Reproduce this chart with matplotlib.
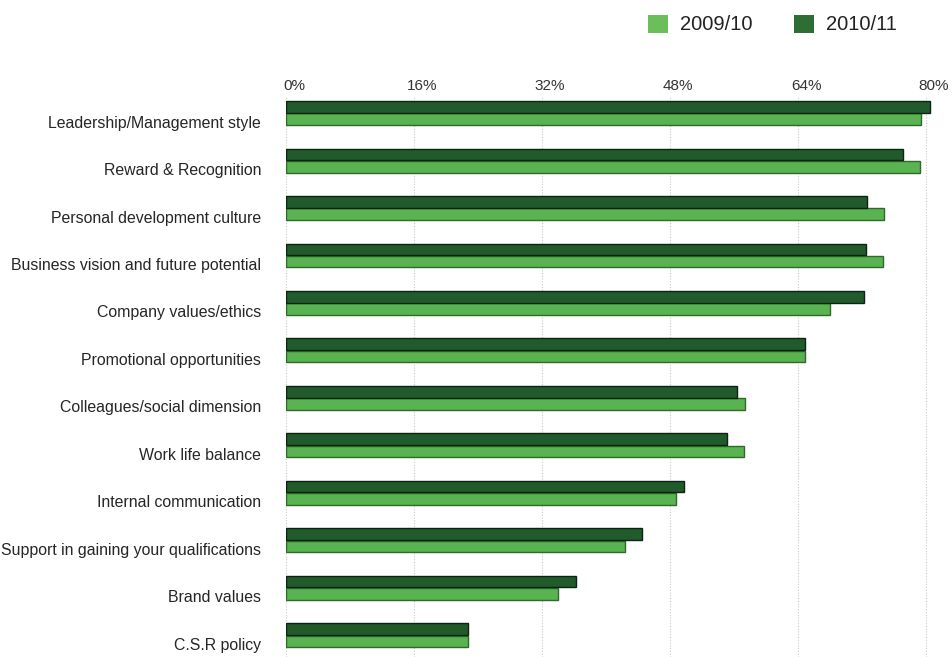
import matplotlib
matplotlib.use("Agg")
import matplotlib.pyplot as plt
from matplotlib.patches import Rectangle
import matplotlib.transforms as mtrans
import numpy as np

plt.rcParams['font.family'] = ['Liberation Sans', 'DejaVu Sans']

categories = [
    "Leadership/Management style",
    "Reward & Recognition",
    "Personal development culture",
    "Business vision and future potential",
    "Company values/ethics",
    "Promotional opportunities",
    "Colleagues/social dimension",
    "Work life balance",
    "Internal communication",
    "Support in gaining your qualifications",
    "Brand values",
    "C.S.R policy",
]
series_names = ["2009/10", "2010/11"]
values_2009 = [79.4, 79.2, 74.7, 74.6, 68.0, 64.9, 57.4, 57.2, 48.8, 42.4, 34.0, 22.7]
values_2010 = [80.5, 77.1, 72.6, 72.5, 72.3, 64.9, 56.4, 55.1, 49.8, 44.5, 36.3, 22.7]
xticks = [0, 16, 32, 48, 64, 80]
xtick_labels = ["0%", "16%", "32%", "48%", "64%", "80%"]

W, H = 952, 657
fig = plt.figure(figsize=(W / 100, H / 100), dpi=100)

ax_left = 286
ax_top = 97
ax = fig.add_axes([ax_left / W, 0, (W - ax_left) / W, 1 - ax_top / H])

light = "#58b350"
light_edge = "#2f6a2c"
dark = "#215a2b"
dark_edge = "#0c2412"

y = np.arange(len(categories))
h = 0.245
ax.barh(y + 0.13, values_2009, height=h, color=light, edgecolor=light_edge,
        linewidth=1.0, zorder=3)
ax.barh(y - 0.13, values_2010, height=h, color=dark, edgecolor=dark_edge,
        linewidth=1.0, zorder=3)

ax.set_xlim(0, (W - ax_left) / 8.0)
ax.set_ylim(11.46, -0.34)

ax.set_xticks(xticks)
ax.set_xticklabels(xtick_labels)
ax.xaxis.tick_top()
ax.tick_params(axis='x', length=0, pad=3, labelsize=11, labelcolor="#333333")
for lbl in ax.get_xticklabels():
    lbl.set_transform(lbl.get_transform() + mtrans.ScaledTranslation(8 / 100, 0, fig.dpi_scale_trans))

ax.set_yticks(y)
ax.set_yticklabels(categories)
ax.tick_params(axis='y', length=0, pad=18, labelsize=11.4, labelcolor="#262626")
for lbl in ax.get_yticklabels():
    lbl.set_verticalalignment('center')
    lbl.set_transform(lbl.get_transform() + mtrans.ScaledTranslation(0, -10 / 100, fig.dpi_scale_trans))

ax.grid(axis='x', linestyle=(0, (1, 1.5)), color="#c8c8c8", linewidth=0.8, zorder=0)
ax.grid(axis='y', visible=False)
for s in ax.spines.values():
    s.set_visible(False)

# legend
def legend_item(x, color, text):
    fig.patches.append(Rectangle((x / W, 1 - 33 / H), 20 / W, 18 / H,
                                 transform=fig.transFigure, facecolor=color,
                                 edgecolor='none'))
    fig.text((x + 32) / W, 1 - 24 / H, text, fontsize=14.5, color="#222222",
             va='center', ha='left')

legend_item(648, "#6abf5a", series_names[0])
legend_item(794, "#2e6e35", series_names[1])

fig.savefig("out.png", dpi=100)
